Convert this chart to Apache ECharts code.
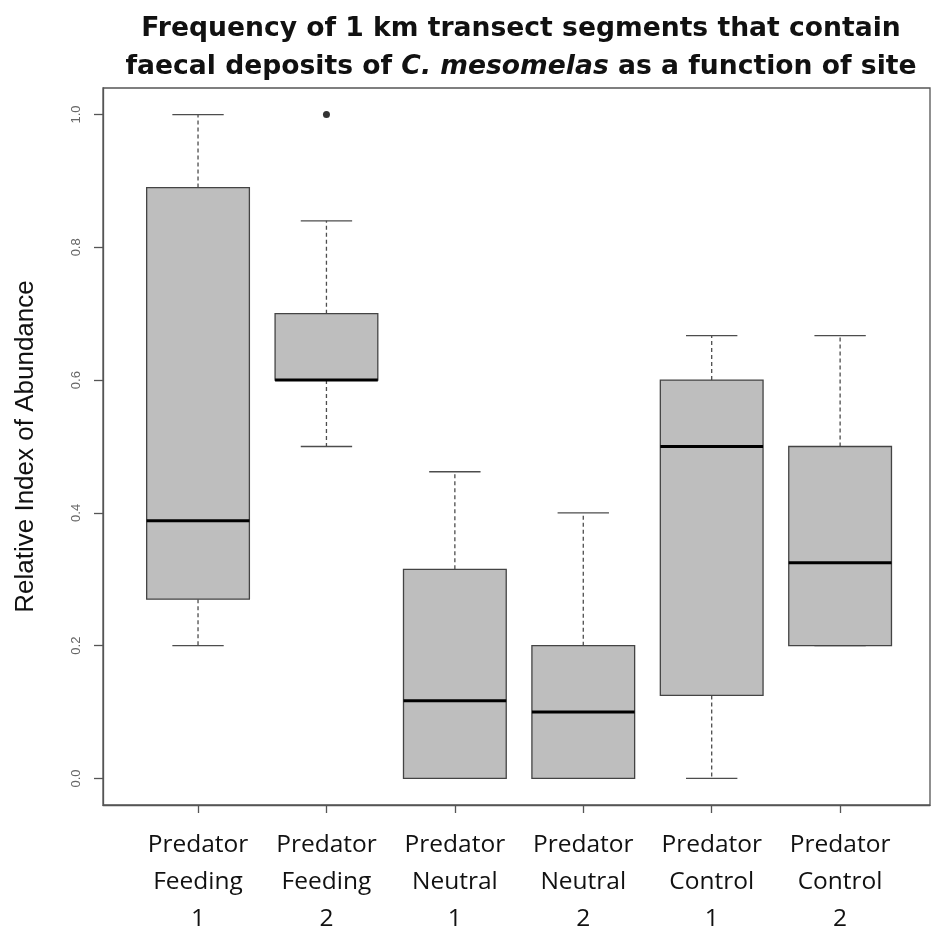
<!DOCTYPE html>
<html>
<head>
<meta charset="utf-8">
<title>Frequency of faecal deposits by site</title>
<script src="https://cdn.jsdelivr.net/npm/echarts@6/dist/echarts.min.js"></script>
<style>
  html, body { margin: 0; padding: 0; background: #ffffff; }
  #chart { width: 931px; height: 928px; }
</style>
</head>
<body>
<div id="chart"></div>
<script>
// Sites along the x axis (positions 1..6), one label line per row
const siteLabels = [
  'Predator\nFeeding\n1',
  'Predator\nFeeding\n2',
  'Predator\nNeutral\n1',
  'Predator\nNeutral\n2',
  'Predator\nControl\n1',
  'Predator\nControl\n2'
];
const sitePositions = [1, 2, 3, 4, 5, 6];

// Five-number summaries per site
const whiskerLow    = [0.20, 0.50, 0.000, 0.00, 0.000, 0.200];
const lowerQuartile = [0.27, 0.60, 0.000, 0.00, 0.125, 0.200];
const medians       = [0.388, 0.60, 0.117, 0.10, 0.500, 0.325];
const upperQuartile = [0.89, 0.70, 0.315, 0.20, 0.600, 0.500];
const whiskerHigh   = [1.00, 0.84, 0.462, 0.40, 0.667, 0.667];

// Points beyond the whiskers
const outlierSites  = [2];
const outlierValues = [1.0];

// Y axis tick values
const yTicks = [0, 0.2, 0.4, 0.6, 0.8, 1.0];

const boxData = sitePositions.map((p, i) => [
  p, whiskerLow[i], lowerQuartile[i], medians[i], upperQuartile[i], whiskerHigh[i]
]);
const outlierData = outlierSites.map((p, i) => [p, outlierValues[i]]);

const BOX_FILL = '#bebebe';
const EDGE = '#444444';
const WHISKER = '#4d4d4d';

function renderBox(params, api) {
  const x = api.value(0);
  const lo = api.value(1), q1 = api.value(2), med = api.value(3),
        q3 = api.value(4), hi = api.value(5);
  const halfBox = api.size([0.4, 0])[0];
  const halfCap = api.size([0.2, 0])[0];
  const pLo = api.coord([x, lo]);
  const pQ1 = api.coord([x, q1]);
  const pMed = api.coord([x, med]);
  const pQ3 = api.coord([x, q3]);
  const pHi = api.coord([x, hi]);
  const cx = pMed[0];
  const children = [];
  const dash = { stroke: WHISKER, lineWidth: 1.3, lineDash: [4, 3] };
  const solid = { stroke: WHISKER, lineWidth: 1.3 };

  if (hi > q3) {
    children.push({ type: 'line', shape: { x1: cx, y1: pQ3[1], x2: cx, y2: pHi[1] }, style: dash });
  }
  if (lo < q1) {
    children.push({ type: 'line', shape: { x1: cx, y1: pQ1[1], x2: cx, y2: pLo[1] }, style: dash });
  }
  children.push({ type: 'line', shape: { x1: cx - halfCap, y1: pHi[1], x2: cx + halfCap, y2: pHi[1] }, style: solid });
  children.push({ type: 'line', shape: { x1: cx - halfCap, y1: pLo[1], x2: cx + halfCap, y2: pLo[1] }, style: solid });
  children.push({
    type: 'rect',
    shape: { x: cx - halfBox, y: pQ3[1], width: halfBox * 2, height: pQ1[1] - pQ3[1] },
    style: { fill: BOX_FILL, stroke: EDGE, lineWidth: 1.3 }
  });
  children.push({
    type: 'line',
    shape: { x1: cx - halfBox, y1: pMed[1], x2: cx + halfBox, y2: pMed[1] },
    style: { stroke: '#000000', lineWidth: 3 }
  });
  return { type: 'group', children: children };
}

const chart = echarts.init(document.getElementById('chart'), null, { renderer: 'canvas' });

chart.setOption({
  backgroundColor: '#ffffff',
  animation: false,
  title: {
    text: 'Frequency of 1 km transect segments that contain\nfaecal deposits of {i|C. mesomelas} as a function of site',
    left: 521,
    top: 10,
    textAlign: 'center',
    padding: 0,
    textStyle: {
      fontFamily: 'DejaVu Sans',
      fontWeight: 'bold',
      fontSize: 26.6,
      lineHeight: 38,
      color: '#111111',
      rich: {
        i: {
          fontFamily: 'DejaVu Sans',
          fontWeight: 'bold',
          fontStyle: 'italic',
          fontSize: 26.6,
          lineHeight: 38,
          color: '#111111'
        }
      }
    }
  },
  grid: {
    left: 103,
    right: 1,
    top: 88,
    bottom: 123,
    outerBoundsMode: 'none',
    containLabel: false,
    show: true,
    borderColor: '#555555',
    borderWidth: 1.3,
    backgroundColor: 'transparent'
  },
  xAxis: {
    type: 'value',
    min: 0.26,
    max: 6.7,
    splitLine: { show: false },
    axisLine: { show: true, onZero: false, lineStyle: { color: '#555555', width: 1.3 } },
    axisTick: {
      show: true,
      length: 8,
      customValues: sitePositions,
      lineStyle: { color: '#555555', width: 1.3 }
    },
    axisLabel: {
      customValues: sitePositions,
      formatter: (v) => siteLabels[Math.round(v) - 1] || '',
      margin: 22,
      fontFamily: 'Open Sans',
      fontSize: 24.5,
      lineHeight: 37,
      color: '#111111',
      align: 'center'
    }
  },
  yAxis: {
    type: 'value',
    min: -0.04,
    max: 1.04,
    splitLine: { show: false },
    name: 'Relative Index of Abundance',
    nameLocation: 'middle',
    nameRotate: 90,
    nameGap: 64,
    nameTextStyle: {
      fontFamily: 'Liberation Sans',
      fontSize: 26,
      color: '#111111'
    },
    axisLine: { show: true, onZero: false, lineStyle: { color: '#555555', width: 1.3 } },
    axisTick: {
      show: true,
      length: 9,
      customValues: yTicks,
      lineStyle: { color: '#555555', width: 1.3 }
    },
    axisLabel: {
      customValues: yTicks,
      formatter: (v) => v.toFixed(1),
      rotate: 90,
      margin: 20,
      fontFamily: 'Liberation Sans',
      fontSize: 13,
      color: '#666666'
    }
  },
  series: [
    {
      type: 'custom',
      name: 'sites',
      renderItem: renderBox,
      encode: { x: 0, y: [1, 2, 3, 4, 5] },
      data: boxData,
      clip: false
    },
    {
      type: 'scatter',
      name: 'outliers',
      data: outlierData,
      symbol: 'circle',
      symbolSize: 7,
      itemStyle: { color: '#000000' },
      silent: true
    }
  ]
});
</script>
</body>
</html>
